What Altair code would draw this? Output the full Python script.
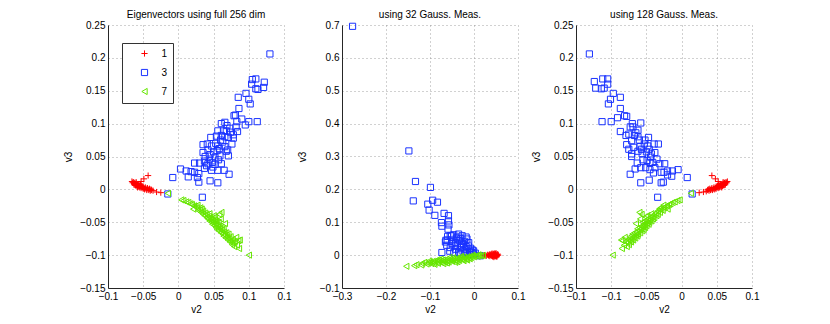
import altair as alt
import pandas as pd

digits = ["1", "3", "7"]
colors = ["#ff0000", "#1a33ff", "#66e600"]
plus_path = "M-1,0L1,0M0,-1L0,1"
shapes = [plus_path, "square", "triangle-left"]

titles = ["Eigenvectors using full 256 dim", "using 32 Gauss. Meas.", "using 128 Gauss. Meas."]

p1_x_ticks = [-0.1, -0.05, 0, 0.05, 0.1, 0.15]
p1_y_ticks = [-0.15, -0.1, -0.05, 0, 0.05, 0.1, 0.15, 0.2, 0.25]
p2_x_ticks = [-0.3, -0.2, -0.1, 0, 0.1]
p2_y_ticks = [-0.1, 0, 0.1, 0.2, 0.3, 0.4, 0.5, 0.6, 0.7]
p3_x_ticks = [-0.15, -0.1, -0.05, 0, 0.05, 0.1]
p3_y_ticks = [-0.15, -0.1, -0.05, 0, 0.05, 0.1, 0.15, 0.2, 0.25]

# ---------- panel 1 : full 256 dim ----------
p1_red = [(-0.043, 0.021), (-0.049, 0.016), (-0.053, 0.012), (-0.031, -0.004), (-0.025, -0.005), (-0.036, -0.002),
          (-0.066, 0.012), (-0.065, 0.010), (-0.064, 0.011), (-0.063, 0.009), (-0.063, 0.007), (-0.062, 0.010),
          (-0.061, 0.008), (-0.061, 0.006), (-0.060, 0.009), (-0.059, 0.007), (-0.059, 0.005), (-0.058, 0.008),
          (-0.057, 0.006), (-0.057, 0.004), (-0.056, 0.007), (-0.055, 0.005), (-0.055, 0.003), (-0.054, 0.006),
          (-0.053, 0.004), (-0.053, 0.002), (-0.052, 0.005), (-0.051, 0.003), (-0.050, 0.001), (-0.050, 0.004),
          (-0.049, 0.002), (-0.048, 0.000), (-0.047, 0.003), (-0.046, 0.001), (-0.045, -0.001), (-0.044, 0.002),
          (-0.043, 0.000), (-0.042, -0.001), (-0.041, 0.001), (-0.040, -0.002), (-0.039, 0.000), (-0.038, -0.001),
          (-0.060, 0.011), (-0.058, 0.003), (-0.054, 0.008)]
p1_blue = [(0.130, 0.206), (0.105, 0.167), (0.110, 0.168), (0.122, 0.163), (0.104, 0.160), (0.110, 0.153),
           (0.113, 0.152), (0.121, 0.155), (0.096, 0.146), (0.100, 0.137), (0.085, 0.140), (0.102, 0.130),
           (0.086, 0.123), (0.079, 0.112), (0.081, 0.113), (0.090, 0.107), (0.100, 0.103), (0.112, 0.103),
           (0.083, 0.103), (0.095, 0.098), (0.061, 0.100), (0.066, 0.102), (0.073, 0.093), (0.082, 0.095),
           (0.084, 0.088), (0.056, 0.089), (0.068, 0.089), (0.074, 0.087), (0.046, 0.079), (0.054, 0.081),
           (0.061, 0.082), (0.066, 0.080), (0.071, 0.079), (0.078, 0.083), (0.078, 0.078), (0.035, 0.068),
           (0.041, 0.069), (0.047, 0.066), (0.053, 0.070), (0.056, 0.066), (0.066, 0.065), (0.076, 0.069),
           (0.035, 0.056), (0.042, 0.060), (0.055, 0.059), (0.070, 0.060), (0.071, 0.051), (0.038, 0.050),
           (0.045, 0.053), (0.052, 0.049), (0.059, 0.051), (0.023, 0.040), (0.030, 0.040), (0.037, 0.043),
           (0.042, 0.039), (0.048, 0.041), (0.052, 0.038), (0.061, 0.039), (0.003, 0.031), (0.011, 0.028),
           (0.018, 0.027), (0.023, 0.026), (0.029, 0.024), (0.037, 0.032), (0.047, 0.029), (0.056, 0.029),
           (0.065, 0.029), (0.072, 0.023), (0.014, 0.019), (0.027, 0.018), (0.029, 0.011), (0.045, 0.013),
           (0.056, 0.010), (-0.008, 0.018), (0.034, -0.012), (-0.015, -0.007), (0.058, 0.062), (0.050, 0.057),
           (0.063, 0.072), (0.044, 0.046), (0.057, 0.045), (0.068, 0.058), (0.049, 0.034), (0.040, 0.036),
           (0.060, 0.075), (0.064, 0.089), (0.069, 0.097)]
p1_green = [(-0.015, -0.006), (0.004, -0.016), (0.007, -0.017), (0.011, -0.019), (0.014, -0.020), (0.017, -0.022),
            (0.019, -0.023), (0.022, -0.025), (0.024, -0.026), (0.021, -0.030), (0.026, -0.028), (0.028, -0.032),
            (0.030, -0.031), (0.032, -0.035), (0.033, -0.030), (0.035, -0.033), (0.035, -0.038), (0.037, -0.040),
            (0.038, -0.036), (0.040, -0.038), (0.040, -0.043), (0.042, -0.045), (0.043, -0.041), (0.044, -0.048),
            (0.045, -0.043), (0.046, -0.046), (0.047, -0.050), (0.048, -0.044), (0.048, -0.053), (0.049, -0.048),
            (0.050, -0.040), (0.050, -0.051), (0.051, -0.055), (0.052, -0.047), (0.053, -0.052), (0.053, -0.058),
            (0.054, -0.049), (0.055, -0.054), (0.055, -0.061), (0.056, -0.057), (0.057, -0.050), (0.057, -0.063),
            (0.058, -0.038), (0.058, -0.056), (0.059, -0.060), (0.060, -0.045), (0.060, -0.066), (0.061, -0.035),
            (0.061, -0.058), (0.062, -0.062), (0.063, -0.068), (0.064, -0.060), (0.064, -0.071), (0.065, -0.065),
            (0.066, -0.052), (0.066, -0.069), (0.067, -0.074), (0.068, -0.066), (0.069, -0.072), (0.070, -0.077),
            (0.071, -0.068), (0.072, -0.075), (0.073, -0.080), (0.074, -0.072), (0.075, -0.078), (0.076, -0.084),
            (0.077, -0.076), (0.078, -0.081), (0.079, -0.087), (0.080, -0.079), (0.082, -0.073), (0.083, -0.085),
            (0.085, -0.078), (0.086, -0.090), (0.087, -0.077), (0.100, -0.100), (0.027, -0.024), (0.031, -0.028),
            (0.044, -0.037), (0.052, -0.042)]

# ---------- panel 2 : 32 Gaussian measurements ----------
p2_red = [(0.020, -0.001), (0.024, 0.000), (0.028, -0.002), (0.031, 0.001), (0.033, -0.001), (0.035, 0.002),
          (0.036, -0.003), (0.038, 0.000), (0.039, 0.003), (0.040, -0.002), (0.041, 0.001), (0.042, -0.004),
          (0.043, 0.002), (0.044, -0.001), (0.044, 0.004), (0.045, 0.000), (0.046, -0.003), (0.046, 0.002),
          (0.047, -0.001), (0.047, 0.005), (0.048, 0.001), (0.048, -0.004), (0.049, 0.003), (0.049, -0.002),
          (0.050, 0.000), (0.050, 0.006), (0.051, -0.003), (0.052, 0.002), (0.053, -0.001), (0.054, 0.003),
          (0.055, 0.000), (0.045, -0.006), (0.041, 0.005), (0.037, 0.001), (0.052, -0.005), (0.043, -0.002)]
p2_blue = [(-0.276, 0.696), (-0.148, 0.317), (-0.133, 0.224), (-0.138, 0.165), (-0.099, 0.206), (-0.105, 0.155),
           (-0.102, 0.137), (-0.094, 0.167), (-0.083, 0.161), (-0.089, 0.121), (-0.068, 0.127), (-0.058, 0.120),
           (-0.074, 0.099), (-0.073, 0.088), (-0.058, 0.104), (-0.057, 0.092), (-0.059, 0.079), (-0.064, 0.045),
           (-0.051, 0.059), (-0.061, 0.046), (-0.054, 0.059), (-0.046, 0.062), (-0.035, 0.064), (-0.027, 0.059),
           (-0.016, 0.049), (-0.050, 0.046), (-0.042, 0.038), (-0.033, 0.044), (-0.024, 0.033), (-0.012, 0.038),
           (-0.054, 0.023), (-0.042, 0.018), (-0.031, 0.023), (-0.020, 0.018), (-0.008, 0.021), (-0.001, 0.013),
           (-0.035, 0.008), (-0.046, 0.008), (-0.016, 0.008), (-0.073, 0.008), (0.014, -0.002), (-0.001, 0.003),
           (-0.040, 0.052), (-0.030, 0.050), (-0.022, 0.042), (-0.038, 0.030), (-0.028, 0.028), (-0.018, 0.026),
           (-0.010, 0.012), (-0.005, 0.008), (-0.025, 0.012), (-0.045, 0.030), (-0.050, 0.035), (-0.036, 0.055),
           (-0.028, 0.036), (-0.013, 0.028), (-0.004, 0.016), (0.003, 0.006), (-0.020, 0.004), (-0.030, 0.003),
           (-0.008, 0.002), (-0.055, 0.012), (-0.062, 0.030), (-0.018, 0.055), (-0.060, 0.057), (-0.065, 0.040)]
p2_green = [(-0.154, -0.034), (-0.136, -0.032), (-0.131, -0.029), (-0.118, -0.025), (-0.113, -0.022), (-0.108, -0.027),
            (-0.104, -0.024), (-0.100, -0.021), (-0.097, -0.026), (-0.094, -0.019), (-0.091, -0.023), (-0.088, -0.018),
            (-0.085, -0.022), (-0.082, -0.025), (-0.080, -0.016), (-0.077, -0.020), (-0.074, -0.023), (-0.071, -0.015),
            (-0.068, -0.019), (-0.066, -0.022), (-0.063, -0.013), (-0.060, -0.017), (-0.058, -0.021), (-0.055, -0.012),
            (-0.052, -0.016), (-0.050, -0.019), (-0.047, -0.011), (-0.044, -0.014), (-0.042, -0.018), (-0.039, -0.009),
            (-0.036, -0.013), (-0.034, -0.016), (-0.031, -0.008), (-0.028, -0.011), (-0.026, -0.014), (-0.023, -0.006),
            (-0.020, -0.010), (-0.018, -0.012), (-0.015, -0.005), (-0.012, -0.008), (-0.009, -0.004), (-0.006, -0.007),
            (-0.003, -0.003), (0.000, -0.005), (0.004, -0.002), (0.008, -0.004), (0.012, -0.001), (0.016, -0.002),
            (0.020, -0.001), (-0.102, -0.018), (-0.090, -0.028), (-0.076, -0.012), (-0.062, -0.024), (-0.048, -0.008),
            (-0.038, -0.020), (-0.024, -0.017), (-0.010, -0.011), (0.010, 0.001), (-0.120, -0.030), (-0.083, -0.014),
            (-0.070, -0.026), (-0.056, -0.007), (-0.043, -0.022), (-0.030, -0.004), (-0.016, -0.015), (-0.004, 0.000)]

# ---------- panel 3 : 128 Gaussian measurements ----------
p3_red = [(0.043, 0.021), (0.048, 0.016), (0.052, 0.012), (0.031, -0.004), (0.025, -0.005), (0.035, -0.003),
          (0.065, 0.012), (0.064, 0.010), (0.063, 0.011), (0.062, 0.009), (0.062, 0.007), (0.061, 0.010),
          (0.060, 0.008), (0.060, 0.006), (0.059, 0.009), (0.058, 0.007), (0.058, 0.005), (0.057, 0.008),
          (0.056, 0.006), (0.056, 0.004), (0.055, 0.007), (0.054, 0.005), (0.054, 0.003), (0.053, 0.006),
          (0.052, 0.004), (0.052, 0.002), (0.051, 0.005), (0.050, 0.003), (0.049, 0.001), (0.049, 0.004),
          (0.048, 0.002), (0.047, 0.000), (0.046, 0.003), (0.045, 0.001), (0.044, -0.001), (0.043, 0.002),
          (0.042, 0.000), (0.041, -0.001), (0.040, 0.001), (0.039, -0.002), (0.038, 0.000), (0.037, -0.001),
          (0.059, 0.011), (0.057, 0.003), (0.053, 0.008)]
p3_blue = [(-0.131, 0.206), (-0.124, 0.164), (-0.122, 0.154), (-0.112, 0.168), (-0.105, 0.168), (-0.114, 0.153),
           (-0.110, 0.154), (-0.105, 0.160), (-0.097, 0.146), (-0.101, 0.137), (-0.104, 0.130), (-0.087, 0.140),
           (-0.087, 0.123), (-0.113, 0.103), (-0.100, 0.103), (-0.091, 0.109), (-0.081, 0.112), (-0.078, 0.111),
           (-0.087, 0.088), (-0.073, 0.095), (-0.069, 0.095), (-0.062, 0.090), (-0.058, 0.101), (-0.079, 0.082),
           (-0.075, 0.084), (-0.067, 0.082), (-0.062, 0.080), (-0.071, 0.074), (-0.047, 0.079), (-0.039, 0.069),
           (-0.033, 0.069), (-0.078, 0.068), (-0.075, 0.061), (-0.071, 0.054), (-0.071, 0.050), (-0.068, 0.064),
           (-0.059, 0.065), (-0.057, 0.061), (-0.056, 0.054), (-0.053, 0.069), (-0.046, 0.061), (-0.043, 0.054),
           (-0.044, 0.049), (-0.055, 0.045), (-0.049, 0.044), (-0.045, 0.041), (-0.041, 0.041), (-0.063, 0.040),
           (-0.058, 0.033), (-0.051, 0.033), (-0.038, 0.033), (-0.031, 0.039), (-0.024, 0.039), (-0.029, 0.026),
           (-0.025, 0.026), (-0.020, 0.028), (-0.013, 0.028), (-0.005, 0.030), (-0.073, 0.023), (-0.066, 0.031),
           (-0.058, 0.010), (-0.046, 0.014), (-0.029, 0.010), (-0.026, 0.011), (-0.014, 0.020), (0.008, 0.018),
           (-0.034, -0.012), (0.015, -0.007), (-0.060, 0.075), (-0.065, 0.086), (-0.052, 0.075), (-0.048, 0.066),
           (-0.038, 0.056), (-0.035, 0.046), (-0.050, 0.057), (-0.062, 0.058), (-0.045, 0.030), (-0.020, 0.022),
           (-0.070, 0.100), (-0.040, 0.025)]
p3_green = [(0.013, -0.006), (-0.003, -0.016), (-0.006, -0.017), (-0.010, -0.019), (-0.013, -0.020), (-0.016, -0.022),
            (-0.018, -0.023), (-0.021, -0.025), (-0.023, -0.026), (-0.020, -0.030), (-0.025, -0.028), (-0.027, -0.032),
            (-0.029, -0.031), (-0.031, -0.035), (-0.032, -0.030), (-0.034, -0.033), (-0.034, -0.038), (-0.036, -0.040),
            (-0.037, -0.036), (-0.039, -0.038), (-0.039, -0.043), (-0.041, -0.045), (-0.042, -0.041), (-0.043, -0.048),
            (-0.044, -0.043), (-0.045, -0.046), (-0.046, -0.050), (-0.047, -0.044), (-0.047, -0.053), (-0.048, -0.048),
            (-0.049, -0.040), (-0.049, -0.051), (-0.050, -0.055), (-0.051, -0.047), (-0.052, -0.052), (-0.052, -0.058),
            (-0.053, -0.049), (-0.054, -0.054), (-0.054, -0.061), (-0.055, -0.057), (-0.056, -0.050), (-0.056, -0.063),
            (-0.057, -0.038), (-0.057, -0.056), (-0.058, -0.060), (-0.059, -0.045), (-0.059, -0.066), (-0.060, -0.035),
            (-0.060, -0.058), (-0.061, -0.062), (-0.062, -0.068), (-0.063, -0.060), (-0.063, -0.071), (-0.064, -0.065),
            (-0.065, -0.052), (-0.065, -0.069), (-0.066, -0.074), (-0.067, -0.066), (-0.068, -0.072), (-0.069, -0.077),
            (-0.070, -0.068), (-0.071, -0.075), (-0.072, -0.080), (-0.073, -0.072), (-0.074, -0.078), (-0.075, -0.084),
            (-0.076, -0.076), (-0.077, -0.081), (-0.078, -0.087), (-0.079, -0.079), (-0.081, -0.073), (-0.082, -0.085),
            (-0.084, -0.078), (-0.085, -0.090), (-0.086, -0.077), (-0.098, -0.100), (-0.026, -0.024), (-0.030, -0.028),
            (-0.043, -0.037), (-0.051, -0.042)]


def frame(red, blue, green):
    rows = ([(x, y, "1") for x, y in red] + [(x, y, "3") for x, y in blue]
            + [(x, y, "7") for x, y in green])
    return pd.DataFrame(rows, columns=["v2", "v3", "digit"])


FONT = "Liberation Sans"


def panel(df, title, xdom, xt, ydom, yt, legend):
    return alt.Chart(df, title=alt.Title(title)).mark_point(
        filled=False, size=38, strokeWidth=1, opacity=1
    ).encode(
        x=alt.X("v2:Q", scale=alt.Scale(domain=xdom, nice=False, zero=False),
                axis=alt.Axis(values=xt, format="~g", title="v2", titleY=21,
                              titleBaseline="middle")),
        y=alt.Y("v3:Q", scale=alt.Scale(domain=ydom, nice=False, zero=False),
                axis=alt.Axis(values=yt, format="~g", title="v3", titleX=-40,
                              titleY=131.5, titleBaseline="middle")),
        color=alt.Color("digit:N", scale=alt.Scale(domain=digits, range=colors), legend=legend),
        shape=alt.Shape("digit:N", scale=alt.Scale(domain=digits, range=shapes), legend=legend),
    ).properties(width=176, height=263)


leg = alt.Legend(orient="none", legendX=14, legendY=18, title=None, strokeColor="#333333",
                 fillColor="white", padding=5.5, symbolOffset=12, labelOffset=12, rowPadding=7,
                 labelFontSize=10, labelFont=FONT, labelColor="black", symbolSize=38,
                 symbolStrokeWidth=1, cornerRadius=0)

c1 = panel(frame(p1_red, p1_blue, p1_green), titles[0], [-0.1, 0.15], p1_x_ticks, [-0.15, 0.25], p1_y_ticks, leg)
c2 = panel(frame(p2_red, p2_blue, p2_green), titles[1], [-0.3, 0.1], p2_x_ticks, [-0.1, 0.7], p2_y_ticks, None)
c3 = panel(frame(p3_red, p3_blue, p3_green), titles[2], [-0.15, 0.1], p3_x_ticks, [-0.15, 0.25], p3_y_ticks, None)

chart = alt.hconcat(c1, c2, c3, spacing=58, bounds="flush").resolve_legend(
    color="independent", shape="independent"
).properties(
    padding={"left": 55, "top": 1, "right": 5, "bottom": 5}
).configure(font=FONT).configure_view(stroke=None).configure_axis(
    domainColor="#262626", domainWidth=1, gridColor="#8c8c8c", gridDash=[1, 3], gridWidth=0.8,
    ticks=False, labelFontSize=10, titleFontSize=10, titleFontWeight="normal", labelColor="black",
    titleColor="black", labelPadding=3, titlePadding=5, labelFont=FONT, titleFont=FONT, labelFlush=False
).configure_title(fontSize=10, fontWeight="normal", font=FONT, offset=0.5, color="black")

chart.save("out.html", embed_options={"renderer": "svg", "actions": False})
